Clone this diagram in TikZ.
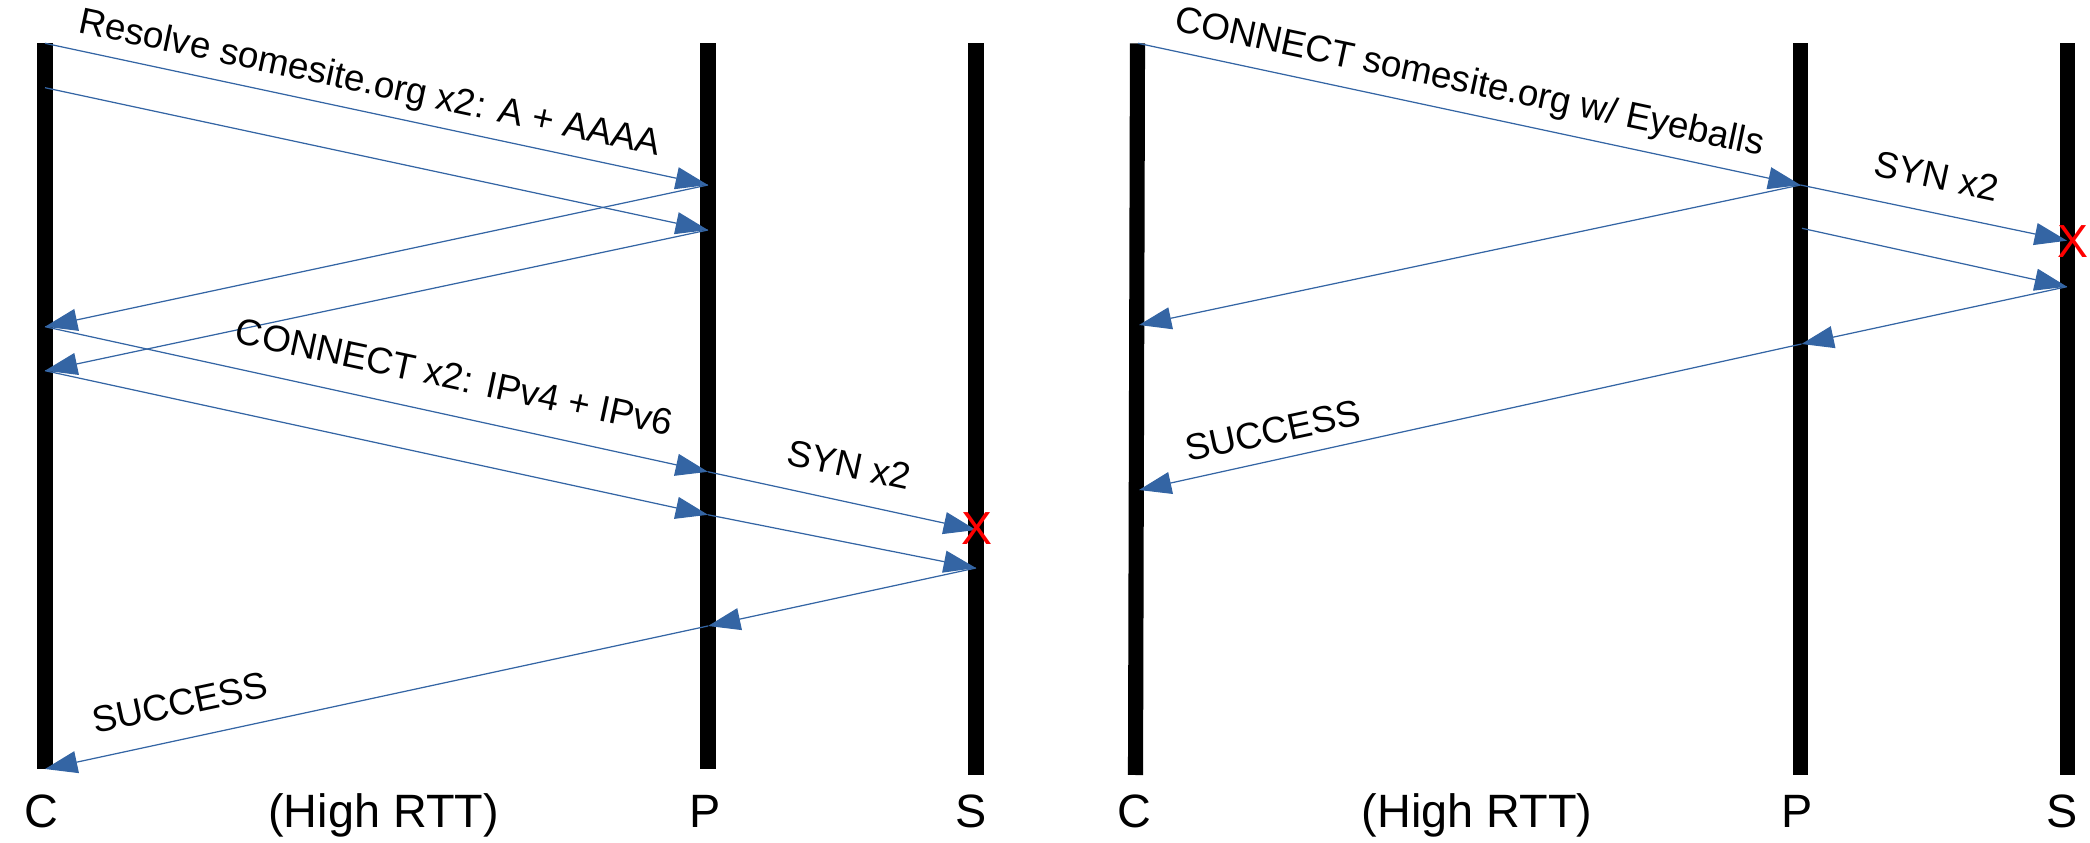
\documentclass[tikz,border=0pt]{standalone}
\usepackage{fontspec}
\setmainfont{Liberation Sans}
\usetikzlibrary{arrows.meta}
\definecolor{msgblue}{HTML}{3465A4}
\begin{document}
\begin{tikzpicture}[x=0.01cm,y=-0.01cm,
  lifeline/.style={line width=4.3pt, black},
  msg/.style={draw=msgblue, line width=0.35pt, -{Triangle[length=9.2pt,width=6.3pt]}},
  downlabel/.style={font=\fontsize{10.5}{12}\selectfont, inner sep=0pt, anchor=base, rotate=-12},
  uplabel/.style={font=\fontsize{10.5}{12}\selectfont, inner sep=0pt, anchor=base, rotate=12},
  actor/.style={font=\fontsize{13.3}{16}\selectfont, inner sep=0pt, anchor=base},
  drop/.style={font=\fontsize{13.2}{16}\selectfont, inner sep=0pt, text=red}
]
\useasboundingbox (0,0) rectangle (2090,843);

% ---------- left sequence: resolve, then connect both families ----------
\coordinate (LCt) at (45,43.3);   \coordinate (LCb) at (45,769);
\coordinate (LPt) at (708,43.3);  \coordinate (LPb) at (708,769);
\coordinate (LSt) at (976,43.3);  \coordinate (LSb) at (976,775);
\draw[lifeline] (LCt) -- (LCb);
\draw[lifeline] (LPt) -- (LPb);
\draw[lifeline] (LSt) -- (LSb);

\coordinate (lc1) at (45,43.3);  \coordinate (lc2) at (45,87.7);
\coordinate (lc3) at (45,326.7); \coordinate (lc4) at (45,370.7);
\coordinate (lc5) at (45,769);
\coordinate (lp1) at (708,185);  \coordinate (lp2) at (708,230);
\coordinate (lp3) at (708,471.8);\coordinate (lp4) at (708,514.8);
\coordinate (lp5) at (708,626);
\coordinate (ls1) at (976,530);  \coordinate (ls2) at (976,568);

\draw[msg] (lc1) -- (lp1);
\draw[msg] (lc2) -- (lp2);
\draw[msg] (lp1) -- (lc3);
\draw[msg] (lp2) -- (lc4);
\draw[msg] (lc3) -- (lp3);
\draw[msg] (lc4) -- (lp4);
\draw[msg] (lp3) -- (ls1);
\draw[msg] (lp4) -- (ls2);
\draw[msg] (ls2) -- (lp5);
\draw[msg] (lp5) -- (lc5);

\node[drop] (lx) at (977,528.3) {X};

\node[downlabel] (lres) at (367.9,94) {Resolve somesite.org x2: A + AAAA};
\node[downlabel] (lcon) at (451.9,389.2) {CONNECT x2: IPv4 + IPv6};
\node[downlabel] (lsyn) at (846.4,477.2) {SYN x2};
\node[uplabel] (lsuc) at (182.6,715.4) {SUCCESS};

\node[actor] (lCname) at (41,827.7) {C};
\node[actor] (lrtt) at (383.6,827.7) {(High RTT)};
\node[actor] (lPname) at (705,827.7) {P};
\node[actor] (lSname) at (971,827.7) {S};

% ---------- right sequence: proxy does the racing ----------
\coordinate (RCt) at (1137.5,43.3); \coordinate (RCb) at (1135.5,775);
\coordinate (RPt) at (1800.5,43.3); \coordinate (RPb) at (1800.5,775);
\coordinate (RSt) at (2067.5,43.3); \coordinate (RSb) at (2067.5,775);
\draw[lifeline] (RCt) -- (RCb);
\draw[lifeline] (RPt) -- (RPb);
\draw[lifeline] (RSt) -- (RSb);

\coordinate (rc1) at (1138,43.3);  \coordinate (rc2) at (1139,325);
\coordinate (rc3) at (1139,490);
\coordinate (rp1) at (1800.5,185); \coordinate (rp2) at (1802,228.3);
\coordinate (rp3) at (1801.5,344);
\coordinate (rs1) at (2067,240.7); \coordinate (rs2) at (2067,286.7);

\draw[msg] (rc1) -- (rp1);
\draw[msg] (rp1) -- (rc2);
\draw[msg] (rp1) -- (rs1);
\draw[msg] (rp2) -- (rs2);
\draw[msg] (rs2) -- (rp3);
\draw[msg] (rp3) -- (rc3);

\node[drop] (rx) at (2073,242) {X};

\node[downlabel] (rcon) at (1467.1,93.3) {CONNECT somesite.org w/ Eyeballs};
\node[downlabel] (rsyn) at (1934,188.3) {SYN x2};
\node[uplabel] (rsuc) at (1275.6,443.3) {SUCCESS};

\node[actor] (rCname) at (1134.5,827.7) {C};
\node[actor] (rrtt) at (1477,827.7) {(High RTT)};
\node[actor] (rPname) at (1797,827.7) {P};
\node[actor] (rSname) at (2062,827.7) {S};
\end{tikzpicture}
\end{document}
